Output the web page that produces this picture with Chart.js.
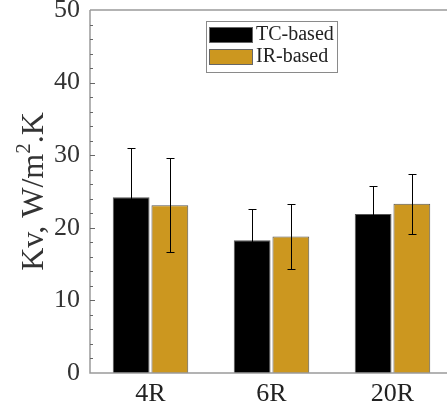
<!DOCTYPE html>
<html>
<head>
<meta charset="utf-8">
<script src="https://cdn.jsdelivr.net/npm/chart.js@4/dist/chart.umd.min.js"></script>
<style>
  html, body { margin: 0; padding: 0; background: #fff; overflow: hidden; }
  #wrap { width: 460px; height: 410px; }
</style>
</head>
<body>
<div id="wrap"><canvas id="grafico" width="460" height="410"></canvas></div>
<script>
const categorias = ['4R', '6R', '20R'];
const tcValores = [24.2, 18.3, 21.9];
const tcError = [6.8, 4.3, 3.9];
const irValores = [23.1, 18.8, 23.3];
const irError = [6.5, 4.5, 4.1];
const ticksY = [0, 10, 20, 30, 40, 50];

const fuente = "'Liberation Serif', 'Times New Roman', serif";
const dorado = '#cc971f';

// barras de error, ejes con marcas hacia dentro, leyenda y titulo del eje y
const extras = {
    id: 'extras',
    afterDatasetsDraw(chart) {
        const ctx = chart.ctx;
        const y = chart.scales.y;
        const errores = [tcError, irError];
        ctx.save();
        ctx.strokeStyle = '#000';
        ctx.lineWidth = 1;
        chart.data.datasets.forEach((ds, i) => {
            const meta = chart.getDatasetMeta(i);
            meta.data.forEach((bar, j) => {
                const v = ds.data[j];
                const e = errores[i][j];
                const x = Math.round(bar.x) + 0.5;
                const yArriba = Math.round(y.getPixelForValue(v + e)) + 0.5;
                const yAbajo = Math.round(y.getPixelForValue(v - e)) + 0.5;
                ctx.beginPath();
                ctx.moveTo(x, yArriba);
                ctx.lineTo(x, yAbajo);
                ctx.moveTo(x - 4, yArriba);
                ctx.lineTo(x + 4, yArriba);
                ctx.moveTo(x - 4, yAbajo);
                ctx.lineTo(x + 4, yAbajo);
                ctx.stroke();
            });
        });
        ctx.restore();
    },
    afterDraw(chart) {
        const ctx = chart.ctx;
        const area = chart.chartArea;
        const y = chart.scales.y;
        ctx.save();

        // marco: izquierda, abajo y arriba
        ctx.strokeStyle = '#9a9a9a';
        ctx.lineWidth = 1.5;
        ctx.beginPath();
        ctx.moveTo(area.left, area.top);
        ctx.lineTo(area.right, area.top);
        ctx.moveTo(area.left, area.top);
        ctx.lineTo(area.left, area.bottom);
        ctx.lineTo(area.right, area.bottom);
        ctx.stroke();

        // marcas menores cada 2 y mayores cada 10
        ctx.strokeStyle = '#666';
        ctx.lineWidth = 1;
        for (let v = 2; v < 50; v += 2) {
            const py = Math.round(y.getPixelForValue(v)) + 0.5;
            const largo = v % 10 === 0 ? 5 : 3;
            ctx.beginPath();
            ctx.moveTo(area.left, py);
            ctx.lineTo(area.left + largo, py);
            ctx.stroke();
        }

        // leyenda
        const lx = 206, ly = 21, lw = 131, lh = 51;
        ctx.fillStyle = '#fff';
        ctx.fillRect(lx, ly, lw, lh);
        ctx.strokeStyle = '#8a8a8a';
        ctx.lineWidth = 1;
        ctx.strokeRect(lx + 0.5, ly + 0.5, lw, lh);
        ctx.font = '20px ' + fuente;
        ctx.textBaseline = 'middle';
        chart.data.datasets.forEach((ds, i) => {
            const fy = ly + 6 + i * 22;
            ctx.fillStyle = ds.backgroundColor;
            ctx.fillRect(lx + 3, fy, 44, 16);
            ctx.strokeStyle = '#666';
            ctx.strokeRect(lx + 3.5, fy + 0.5, 43, 15);
            ctx.fillStyle = '#222';
            ctx.fillText(ds.label, lx + 50, fy + 8);
        });

        // titulo del eje y con superindice
        ctx.translate(43, (area.top + area.bottom) / 2);
        ctx.rotate(-Math.PI / 2);
        ctx.fillStyle = '#333';
        ctx.textBaseline = 'alphabetic';
        const grande = '32px ' + fuente;
        const chico = '21px ' + fuente;
        const partes = [['Kv, W/m', grande, 0], ['2', chico, -13], ['.K', grande, 0]];
        let total = 0;
        partes.forEach(p => { ctx.font = p[1]; total += ctx.measureText(p[0]).width; });
        let px = -total / 2;
        partes.forEach(p => {
            ctx.font = p[1];
            ctx.fillText(p[0], px, p[2]);
            px += ctx.measureText(p[0]).width;
        });
        ctx.restore();
    }
};

new Chart(document.getElementById('grafico'), {
    type: 'bar',
    data: {
        labels: categorias,
        datasets: [{
            label: 'TC-based',
            data: tcValores,
            backgroundColor: '#000000',
            borderColor: '#555',
            borderWidth: 1,
            barPercentage: 0.95,
            categoryPercentage: 0.64
        }, {
            label: 'IR-based',
            data: irValores,
            backgroundColor: dorado,
            borderColor: '#555',
            borderWidth: 1,
            barPercentage: 0.95,
            categoryPercentage: 0.64
        }]
    },
    options: {
        responsive: false,
        animation: false,
        layout: { padding: { top: 10, right: 7, left: 0, bottom: 0 } },
        plugins: {
            legend: { display: false },
            tooltip: { enabled: false }
        },
        scales: {
            x: {
                grid: { display: false, drawTicks: false },
                border: { display: false },
                ticks: { color: '#222', font: { family: fuente, size: 26 }, padding: 6 },
                afterFit(scale) {
                    scale.height = 37;
                    scale.paddingLeft = 0;
                    scale.paddingRight = 0;
                }
            },
            y: {
                min: 0,
                max: 50,
                afterBuildTicks(scale) { scale.ticks = ticksY.map(v => ({ value: v })); },
                grid: { display: false, drawTicks: false },
                border: { display: false },
                ticks: { color: '#333', font: { family: fuente, size: 26 }, padding: 10 },
                afterFit(scale) {
                    scale.width = 90;
                    scale.paddingTop = 0;
                    scale.paddingBottom = 0;
                }
            }
        }
    },
    plugins: [extras]
});
</script>
</body>
</html>
